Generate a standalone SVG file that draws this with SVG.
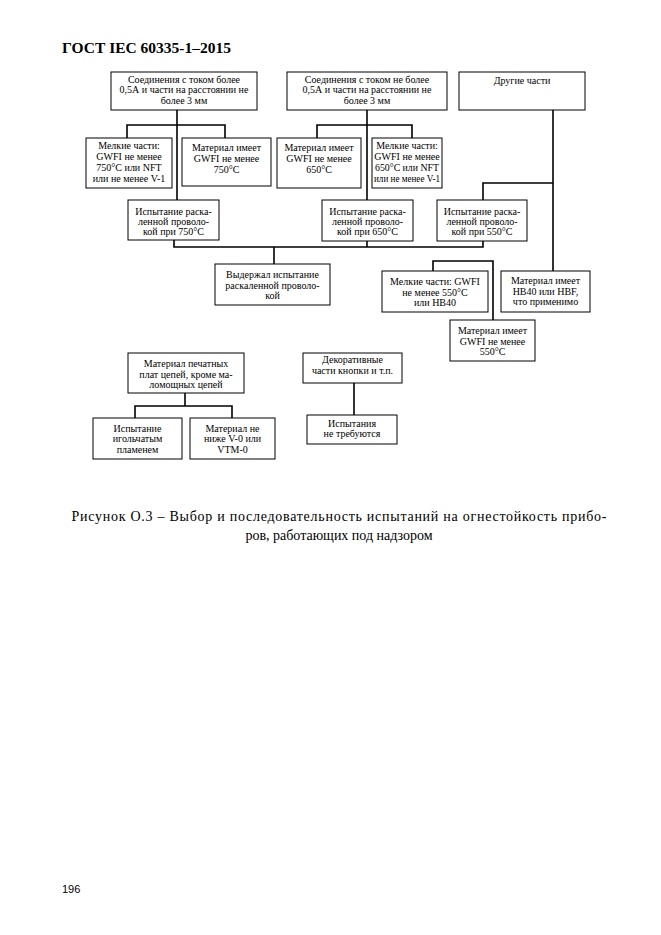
<svg xmlns="http://www.w3.org/2000/svg" width="661" height="935" viewBox="0 0 661 935">
<style>
.bg{fill:#ffffff}
.box{fill:#ffffff;stroke:#000;stroke-width:1}
.t{font-family:"Liberation Serif","DejaVu Serif",serif;font-size:10px;fill:#000;text-anchor:middle}
.c{fill:none;stroke:#000;stroke-width:1.6}
.hd{font-family:"Liberation Serif","DejaVu Serif",serif;font-size:15.5px;font-weight:bold;fill:#000}
.cap{font-family:"Liberation Serif","DejaVu Serif",serif;font-size:14px;fill:#000;text-anchor:middle}
.pg{font-family:"Liberation Sans","DejaVu Sans",sans-serif;font-size:11px;fill:#000}
</style>
<rect class="bg" x="0" y="0" width="661" height="935"/>
<text class="hd" x="62" y="53">ГОСТ IEC 60335-1–2015</text>

<g id="connectors">
<path class="c" d="M177 110 V200"/>
<path class="c" d="M127 138 V125 H225 V138"/>
<path class="c" d="M367 110 V200"/>
<path class="c" d="M317 138 V125 H412 V138"/>
<path class="c" d="M553 110 V271"/>
<path class="c" d="M483 200 V183 H553"/>
<path class="c" d="M174 240 V247 H483 V241"/>
<path class="c" d="M367 241 V247"/>
<path class="c" d="M274 247 V264"/>
<path class="c" d="M433 271 V261 H493 V320"/>
<path class="c" d="M185 393 V406"/>
<path class="c" d="M135 418 V406 H232 V418"/>
<path class="c" d="M354 383 V415"/>
</g>

<g id="n1"><rect class="box" x="111" y="72" width="146" height="38"/>
<text class="t" x="184" y="83">Соединения с током более</text>
<text class="t" x="184" y="93">0,5А и части на расстоянии не</text>
<text class="t" x="184" y="104">более 3 мм</text></g>

<g id="n2"><rect class="box" x="287" y="72" width="160" height="38"/>
<text class="t" x="367" y="83">Соединения с током не более</text>
<text class="t" x="367" y="93">0,5А и части на расстоянии не</text>
<text class="t" x="367" y="104">более 3 мм</text></g>

<g id="n3"><rect class="box" x="459" y="72" width="126" height="38"/>
<text class="t" x="522" y="84">Другие части</text></g>

<g id="n4"><rect class="box" x="86" y="138" width="86" height="50"/>
<text class="t" x="129" y="149">Мелкие части:</text>
<text class="t" x="129" y="160">GWFI не менее</text>
<text class="t" x="129" y="171">750°C или NFT</text>
<text class="t" x="129" y="182">или не менее V-1</text></g>

<g id="n5"><rect class="box" x="182" y="138" width="89" height="48"/>
<text class="t" x="226.5" y="151">Материал имеет</text>
<text class="t" x="226.5" y="162">GWFI не менее</text>
<text class="t" x="226.5" y="173">750°C</text></g>

<g id="n6"><rect class="box" x="277" y="138" width="84" height="50"/>
<text class="t" x="319" y="151">Материал имеет</text>
<text class="t" x="319" y="162">GWFI не менее</text>
<text class="t" x="319" y="173">650°C</text></g>

<g id="n7"><rect class="box" x="372" y="138" width="70" height="50"/>
<text class="t" x="407" y="149">Мелкие части:</text>
<text class="t" x="407" y="160">GWFI не менее</text>
<text class="t" x="407" y="171" textLength="64" lengthAdjust="spacingAndGlyphs">650°C или NFT</text>
<text class="t" x="407" y="182" textLength="66" lengthAdjust="spacingAndGlyphs">или не менее V-1</text></g>

<g id="n8"><rect class="box" x="128" y="200" width="91" height="40"/>
<text class="t" x="173.5" y="215">Испытание раска-</text>
<text class="t" x="173.5" y="225">ленной проволо-</text>
<text class="t" x="173.5" y="235">кой при 750°C</text></g>

<g id="n9"><rect class="box" x="322" y="200" width="91" height="41"/>
<text class="t" x="367.5" y="215">Испытание раска-</text>
<text class="t" x="367.5" y="225">ленной проволо-</text>
<text class="t" x="367.5" y="235">кой при 650°C</text></g>

<g id="n10"><rect class="box" x="437" y="200" width="90" height="41"/>
<text class="t" x="482" y="215">Испытание раска-</text>
<text class="t" x="482" y="225">ленной проволо-</text>
<text class="t" x="482" y="235">кой при 550°C</text></g>

<g id="n11"><rect class="box" x="215" y="264" width="115" height="41"/>
<text class="t" x="272.5" y="278">Выдержал испытание</text>
<text class="t" x="272.5" y="289">раскаленной проволо-</text>
<text class="t" x="272.5" y="299">кой</text></g>

<g id="n12"><rect class="box" x="382" y="271" width="106" height="41"/>
<text class="t" x="435" y="285">Мелкие части: GWFI</text>
<text class="t" x="435" y="296">не менее 550°C</text>
<text class="t" x="435" y="306">или HB40</text></g>

<g id="n13"><rect class="box" x="501" y="271" width="89" height="41"/>
<text class="t" x="545.5" y="284">Материал имеет</text>
<text class="t" x="545.5" y="295">HB40 или HBF,</text>
<text class="t" x="545.5" y="305">что применимо</text></g>

<g id="n14"><rect class="box" x="450" y="320" width="85" height="41"/>
<text class="t" x="492.5" y="334">Материал имеет</text>
<text class="t" x="492.5" y="345">GWFI не менее</text>
<text class="t" x="492.5" y="355">550°C</text></g>

<g id="n15"><rect class="box" x="128" y="353" width="116" height="40"/>
<text class="t" x="186" y="367">Материал печатных</text>
<text class="t" x="186" y="378">плат цепей, кроме ма-</text>
<text class="t" x="186" y="388">ломощных цепей</text></g>

<g id="n16"><rect class="box" x="93" y="418" width="89" height="41"/>
<text class="t" x="137.5" y="432">Испытание</text>
<text class="t" x="137.5" y="442">игольчатым</text>
<text class="t" x="137.5" y="453">пламенем</text></g>

<g id="n17"><rect class="box" x="190" y="418" width="85" height="41"/>
<text class="t" x="232.5" y="432">Материал не</text>
<text class="t" x="232.5" y="442">ниже V-0 или</text>
<text class="t" x="232.5" y="453">VTM-0</text></g>

<g id="n18"><rect class="box" x="303" y="353" width="99" height="30"/>
<text class="t" x="352.5" y="363">Декоративные</text>
<text class="t" x="352.5" y="374">части кнопки и т.п.</text></g>

<g id="n19"><rect class="box" x="307" y="415" width="90" height="29"/>
<text class="t" x="352" y="427">Испытания</text>
<text class="t" x="352" y="437">не требуются</text></g>

<text class="cap" x="339" y="521" textLength="535" lengthAdjust="spacing">Рисунок О.3 – Выбор и последовательность испытаний на огнестойкость прибо-</text>
<text class="cap" x="339" y="540">ров, работающих под надзором</text>
<text class="pg" x="62" y="893">196</text>
</svg>
